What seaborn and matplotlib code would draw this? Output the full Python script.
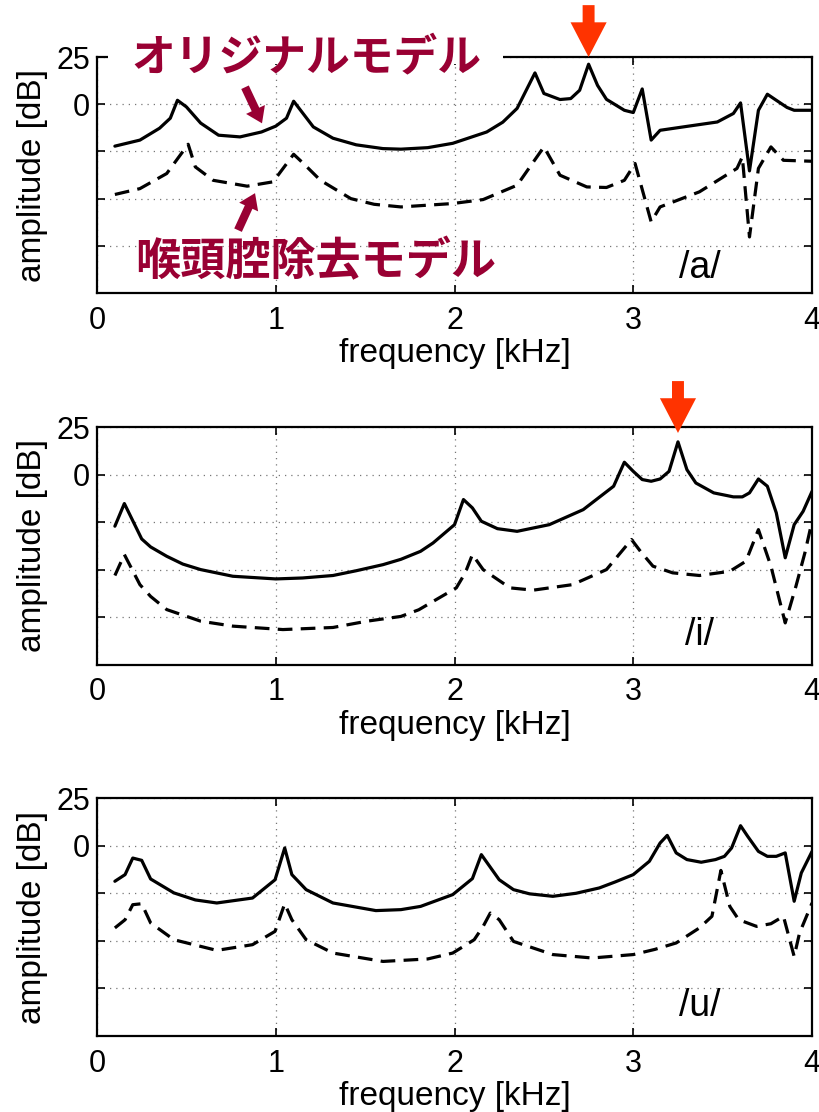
import numpy as np
import pandas as pd
import matplotlib
matplotlib.use('Agg')
import matplotlib.pyplot as plt
import seaborn as sns
from matplotlib.patches import Rectangle

# /a/ : original model (solid) and model without laryngeal cavity (dashed)
a_orig_f = [0.10, 0.24, 0.35, 0.41, 0.45, 0.50, 0.58, 0.68, 0.80, 0.92, 1.00, 1.06, 1.10, 1.21, 1.32, 1.45,
            1.60, 1.70, 1.85, 1.99, 2.18, 2.27, 2.35, 2.45, 2.50, 2.59, 2.65, 2.70, 2.75, 2.80, 2.85, 2.95, 3.00,
            3.05, 3.10, 3.15, 3.28, 3.47, 3.56, 3.60, 3.65, 3.70, 3.75, 3.80, 3.86, 3.90, 4.00]
a_orig_db = [-22.2, -19.0, -12.7, -7.4, 2.1, -1.4, -10.0, -16.4, -17.3, -14.7, -11.6, -7.4, 1.6, -12.0, -18.0, -21.5,
             -23.5, -23.8, -23.0, -20.7, -14.7, -9.5, -2.2, 16.6, 5.7, 2.5, 3.0, 7.4, 21.2, 10.0, 2.6, -3.2, -4.4,
             8.1, -19.0, -13.8, -12.0, -9.4, -4.9, 0.7, -35.3, -3.2, 5.3, 2.1, -1.7, -3.2, -3.2]
a_rm_f = [0.10, 0.24, 0.39, 0.51, 0.55, 0.65, 0.84, 0.985, 1.10, 1.155, 1.25, 1.42, 1.55, 1.70, 1.99, 2.16, 2.35,
          2.50, 2.59, 2.74, 2.85, 2.95, 3.01, 3.10, 3.15, 3.37, 3.58, 3.61, 3.65, 3.70, 3.77, 3.84, 4.00]
a_rm_db = [-47.8, -44.7, -36.7, -21.2, -33.2, -40.3, -43.4, -41.1, -26.5, -31.4, -40.3, -50.0, -53.0, -54.4, -52.6, -50.5, -42.9,
           -22.6, -37.6, -43.8, -44.1, -40.3, -31.4, -62.3, -54.4, -46.4, -34.0, -27.9, -70.3, -34.0, -22.6, -29.7, -30.2]

# /i/
i_orig_f = [0.10, 0.153, 0.25, 0.30, 0.39, 0.48, 0.58, 0.76, 1.00, 1.15, 1.32, 1.45, 1.60, 1.70, 1.81, 1.88,
            2.00, 2.05, 2.10, 2.15, 2.24, 2.35, 2.53, 2.72, 2.89, 2.95, 3.00, 3.05, 3.10, 3.15, 3.20, 3.25,
            3.30, 3.35, 3.45, 3.56, 3.61, 3.65, 3.70, 3.75, 3.80, 3.85, 3.90, 3.95, 4.00]
i_orig_db = [-27.1, -15.2, -33.8, -38.0, -42.9, -47.0, -49.9, -53.4, -54.8, -54.3, -53.0, -50.5, -47.3, -44.5, -40.3, -35.9,
             -26.3, -13.1, -17.5, -24.5, -28.4, -29.8, -26.3, -18.4, -6.1, 6.5, 1.7, -2.6, -3.5, -2.3, 1.7, 17.2,
             2.6, -4.4, -9.6, -11.7, -11.7, -9.6, -2.3, -6.1, -20.1, -43.7, -26.3, -19.3, -8.8]
i_rm_f = [0.10, 0.153, 0.24, 0.30, 0.39, 0.58, 0.76, 1.04, 1.32, 1.51, 1.70, 1.80, 2.01, 2.06, 2.10, 2.16,
          2.31, 2.44, 2.66, 2.85, 2.99, 3.04, 3.11, 3.22, 3.37, 3.54, 3.63, 3.70, 3.77, 3.85, 3.91, 3.96, 4.00]
i_rm_db = [-53.0, -42.0, -57.8, -64.0, -70.9, -77.0, -79.6, -81.4, -80.3, -77.0, -74.5, -71.0, -59.5, -51.6, -42.0, -49.9,
           -59.5, -60.7, -57.8, -49.9, -34.1, -40.3, -48.1, -51.6, -53.0, -50.8, -45.5, -28.9, -48.1, -77.9, -58.6, -41.1, -24.5]

# /u/
u_orig_f = [0.10, 0.157, 0.20, 0.25, 0.30, 0.43, 0.55, 0.67, 0.87, 0.996, 1.05, 1.09, 1.17, 1.32, 1.56, 1.70, 1.81,
            1.99, 2.10, 2.15, 2.25, 2.33, 2.42, 2.55, 2.68, 2.81, 2.90, 3.00, 3.09, 3.15, 3.19, 3.24, 3.30, 3.38, 3.46, 3.51,
            3.55, 3.60, 3.64, 3.70, 3.75, 3.80, 3.85, 3.90, 3.94, 4.00]
u_orig_db = [-18.7, -15.2, -6.5, -7.7, -17.5, -24.8, -28.5, -30.1, -27.5, -17.9, -1.2, -15.2, -23.1, -30.1, -34.1, -33.6, -31.9,
             -25.7, -17.3, -4.7, -17.9, -23.1, -25.3, -26.6, -25.0, -22.2, -19.0, -15.2, -8.2, 1.4, 5.4, -3.8, -7.3, -8.7, -7.3, -5.6,
             -1.2, 10.5, 4.9, -3.0, -5.6, -5.6, -3.8, -29.2, -14.3, -3.0]
u_rm_f = [0.10, 0.157, 0.20, 0.25, 0.30, 0.43, 0.67, 0.87, 0.996, 1.05, 1.09, 1.17, 1.32, 1.60, 1.85, 1.99,
          2.11, 2.16, 2.20, 2.25, 2.33, 2.55, 2.77, 3.00, 3.12, 3.24, 3.37, 3.44, 3.49, 3.54, 3.59, 3.69, 3.77,
          3.84, 3.90, 3.93, 4.00]
u_rm_db = [-43.2, -38.9, -31.0, -30.5, -40.6, -49.4, -55.0, -52.0, -45.0, -30.5, -38.9, -49.4, -56.4, -60.8, -59.5, -56.4,
           -49.4, -42.4, -35.4, -38.9, -50.3, -57.2, -59.0, -57.2, -54.5, -51.1, -43.2, -37.1, -13.0, -31.9, -38.9, -42.4, -41.0,
           -37.1, -58.2, -45.9, -30.1]

vowels = ['/a/', '/i/', '/u/']
x_ticks = [0, 1, 2, 3, 4]
y_ticks = [-75, -50, -25, 0, 25]
y_ticklabels = ['', '', '', '0', '25']
label_orig = 'オリジナルモデル'
label_rm = '喉頭腔除去モデル'
peak_marks = {0: 2.75, 1: 3.25}

sns.set_style('ticks')
plt.rcParams['font.family'] = ['Liberation Sans', 'Noto Sans CJK JP', 'DejaVu Sans']
plt.rcParams['text.color'] = 'black'
plt.rcParams['axes.labelcolor'] = 'black'
plt.rcParams['xtick.color'] = 'black'
plt.rcParams['ytick.color'] = 'black'

fig = plt.figure(figsize=(8.2, 11.12), dpi=100)
positions = [[0.1183, 0.7365, 0.872, 0.2122],
             [0.1183, 0.4020, 0.872, 0.2140],
             [0.1183, 0.0683, 0.872, 0.2140]]

data = [(a_orig_f, a_orig_db, a_rm_f, a_rm_db),
        (i_orig_f, i_orig_db, i_rm_f, i_rm_db),
        (u_orig_f, u_orig_db, u_rm_f, u_rm_db)]
vowel_y = [-87, -84, -84]

for k, (of, odb, rf, rdb) in enumerate(data):
    ax = fig.add_axes(positions[k])
    df_o = pd.DataFrame({'freq': of, 'db': odb})
    df_r = pd.DataFrame({'freq': rf, 'db': rdb})
    sns.lineplot(data=df_o, x='freq', y='db', ax=ax, color='black', lw=2.3,
                 estimator=None, sort=False)
    sns.lineplot(data=df_r, x='freq', y='db', ax=ax, color='black', lw=2.3,
                 estimator=None, sort=False, linestyle=(0, (4.6, 2.6)))

    ax.set_xlim(0, 4)
    ax.set_ylim(-100, 25)
    ax.set_xticks(x_ticks)
    ax.set_yticks(y_ticks)
    ax.set_yticklabels(y_ticklabels)
    ax.grid(True, color='#777777', linestyle=(0, (1, 4)), linewidth=0.9)
    ax.tick_params(direction='in', top=True, right=True, labelsize=22, width=1.2, length=6,
                   color='black', labelcolor='black')
    ax.tick_params(axis='x', pad=9)
    ax.tick_params(axis='y', pad=5)
    for sp in ax.spines.values():
        sp.set_linewidth(1.6)
        sp.set_color('black')
    ax.set_xlabel('frequency [kHz]', fontsize=24, color='black')
    ax.set_ylabel('amplitude [dB]', fontsize=24, color='black')
    ax.xaxis.set_label_coords(0.5, -0.19)
    ax.yaxis.set_label_coords(-0.068, 0.5)

    ax.text(3.37, vowel_y[k], vowels[k], fontsize=27, ha='center', va='center', color='black')

    if k in peak_marks:
        xp = peak_marks[k]
        tip = 1.0 if k == 0 else 0.975
        ax.annotate('', xy=(xp, tip), xycoords=('data', 'axes fraction'),
                    xytext=(xp, 1.22 if k == 0 else 1.193), textcoords=('data', 'axes fraction'),
                    arrowprops=dict(arrowstyle='simple,head_length=25,head_width=26,tail_width=8.6',
                                    color='#ff3300', lw=0, shrinkA=0, shrinkB=0, mutation_scale=1),
                    annotation_clip=False)

    if k == 0:
        # white box behind the upper label hides part of the top frame
        ax.add_patch(Rectangle((0.0154, 0.97), 0.553, 0.06, transform=ax.transAxes,
                               facecolor='white', edgecolor='none', clip_on=False, zorder=2.6))
        ax.text(1.17, 25, label_orig, fontsize=31.5, fontweight='bold', color='#990033',
                family=['Noto Sans CJK JP'], ha='center', va='center', zorder=4)
        ax.text(1.225, -83.5, label_rm, fontsize=32.5, fontweight='bold', color='#990033',
                family=['Noto Sans CJK JP'], ha='center', va='center', zorder=4)
        arrow_kw = dict(arrowstyle='simple,head_length=11,head_width=15,tail_width=6',
                        color='#990033', lw=0, shrinkA=0, shrinkB=0, mutation_scale=1)
        ax.annotate('', xy=(0.923, -10.1), xytext=(0.828, 9.0), arrowprops=arrow_kw)
        ax.annotate('', xy=(0.884, -47.1), xytext=(0.789, -66.7), arrowprops=arrow_kw)

fig.savefig('out.png', dpi=100)
